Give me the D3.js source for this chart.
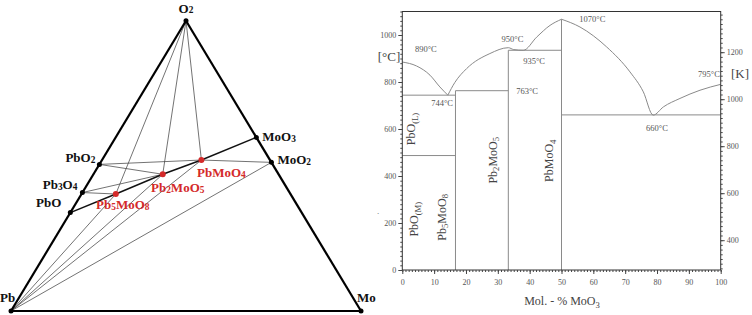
<!DOCTYPE html>
<html>
<head>
<meta charset="utf-8">
<script src="https://cdn.jsdelivr.net/npm/d3@7"></script>
<style>
  body { margin: 0; background: #fff; }
  svg { display: block; font-family: "Liberation Serif", "Times New Roman", serif; }
</style>
</head>
<body>
<div id="chart"></div>
<script>
// ---- Ternary Pb-Mo-O diagram (left) ----
var phases = ["Pb", "Mo", "O2", "PbO2", "Pb3O4", "PbO", "Pb5MoO8", "Pb2MoO5", "PbMoO4", "MoO3", "MoO2"];
var fracMo = [0, 1, 0, 0, 0, 0, 0.098, 0.198, 0.284, 0.402, 0.488];
var fracO  = [0, 0, 1, 0.505, 0.408, 0.339, 0.403, 0.471, 0.520, 0.598, 0.512];
var ternaryPhases = ["Pb5MoO8", "Pb2MoO5", "PbMoO4"];

var edgeLines = [["Pb", "O2"], ["O2", "Mo"], ["Pb", "Mo"]];
var boldLines = [["PbO", "Pb5MoO8"], ["Pb5MoO8", "Pb2MoO5"], ["Pb2MoO5", "PbMoO4"], ["PbMoO4", "MoO3"]];
var tieLines = [
  ["O2", "Pb5MoO8"], ["O2", "Pb2MoO5"], ["O2", "PbMoO4"],
  ["PbO2", "PbMoO4"], ["PbO2", "Pb2MoO5"],
  ["Pb3O4", "Pb5MoO8"], ["Pb3O4", "Pb2MoO5"],
  ["PbMoO4", "MoO2"],
  ["Pb", "Pb5MoO8"], ["Pb", "Pb2MoO5"], ["Pb", "PbMoO4"], ["Pb", "MoO2"]
];

// ---- PbO-MoO3 phase diagram (right) ----
var liqMol1 = [0, 4.5, 8.7, 11.8, 14.3];
var liqT1   = [885, 868, 829, 779, 744];
var liqMol2 = [14.3, 16.5, 20.2, 27.5, 33.3, 35, 38, 42.2, 46.4, 50];
var liqT2   = [744, 798, 857, 921, 946, 938, 935, 991, 1041, 1067];
var liqMol3 = [50, 55.8, 64.2, 71.5, 75.7, 78.8, 82, 87.2, 93.5, 100];
var liqT3   = [1067, 1034, 949, 843, 758, 659, 694, 730, 765, 790];

// horizontal invariant lines
var isoFrom = [0, 16.7, 0, 33.3, 50];
var isoTo   = [16.7, 33.3, 16.7, 50, 100];
var isoT    = [744, 763, 487, 935, 660];
// vertical compound lines
var compMol = [16.7, 33.3, 50];
var compTop = [763, 935, 1067];

var tempLabels = ["890°C", "744°C", "950°C", "935°C", "1070°C", "763°C", "660°C", "795°C"];
var tempLabelMol = [7.4, 12.5, 34.6, 41.4, 59.7, 39.2, 80, 96.3];
var tempLabelT   = [926, 697, 969, 875, 1054, 748, 591, 820];

var xTicks = [0, 10, 20, 30, 40, 50, 60, 70, 80, 90, 100];
var cTicks = [0, 200, 400, 600, 800, 1000];
var kTicks = [400, 600, 800, 1000, 1200];

var width = 752, height = 315;
var svg = d3.select("#chart").append("svg")
  .attr("width", width).attr("height", height);

// write a formula, digits / phase tags as subscripts
function formula(textSel, parts, size, shift) {
  parts.forEach(function(p, i) {
    var isSub = p[1] === 1;
    var prevSub = i > 0 && parts[i - 1][1] === 1;
    var dy = 0;
    if (isSub && !prevSub) dy = size * shift;
    if (!isSub && prevSub) dy = -size * shift;
    textSel.append("tspan")
      .attr("dy", dy)
      .attr("font-size", isSub ? size * 0.72 : size)
      .text(p[0]);
  });
}
function splitFormula(name) {
  return name.match(/[A-Za-z]+|\d+/g).map(function(s) {
    return [s, /\d/.test(s) ? 1 : 0];
  });
}

// ===== left ternary =====
var tx = d3.scaleLinear().domain([0, 1]).range([11, 361]);
var ty = d3.scaleLinear().domain([0, 1]).range([311, 20.7]);
function px(name) {
  var i = phases.indexOf(name);
  return [tx(fracMo[i] + fracO[i] / 2), ty(fracO[i])];
}

var tern = svg.append("g");
function drawLines(list, w, col) {
  tern.append("g").selectAll("line").data(list).enter().append("line")
    .attr("x1", function(d) { return px(d[0])[0]; })
    .attr("y1", function(d) { return px(d[0])[1]; })
    .attr("x2", function(d) { return px(d[1])[0]; })
    .attr("y2", function(d) { return px(d[1])[1]; })
    .attr("stroke", col).attr("stroke-width", w);
}
drawLines(tieLines, 0.75, "#444");
drawLines(boldLines, 1.5, "#111");
drawLines(edgeLines, 2.2, "#000");

tern.append("g").selectAll("circle").data(phases).enter().append("circle")
  .attr("cx", function(d) { return px(d)[0]; })
  .attr("cy", function(d) { return px(d)[1]; })
  .attr("r", function(d) { return ternaryPhases.indexOf(d) >= 0 ? 3 : 2.5; })
  .attr("fill", function(d) { return ternaryPhases.indexOf(d) >= 0 ? "#d42a2a" : "#000"; });

// label placement relative to each point
var labelPos = {
  "O2": [0, -8, "middle"], "Pb": [-11, -9, "start"], "Mo": [-4, -9, "start"],
  "PbO2": [-4, -2, "end"], "Pb3O4": [-5, -3.5, "end"], "PbO": [-9, -5.5, "end"],
  "Pb5MoO8": [7, 15, "middle"], "Pb2MoO5": [15, 18, "middle"], "PbMoO4": [20, 17, "middle"],
  "MoO3": [6, 4, "start"], "MoO2": [6, 2, "start"]
};
phases.forEach(function(name) {
  var p = px(name), lp = labelPos[name];
  var t = tern.append("text")
    .attr("x", p[0] + lp[0]).attr("y", p[1] + lp[1])
    .attr("text-anchor", lp[2])
    .attr("font-weight", "bold")
    .attr("fill", ternaryPhases.indexOf(name) >= 0 ? "#d42a2a" : "#111");
  formula(t, splitFormula(name), 13, 0.06);
});

// ===== right phase diagram =====
var x = d3.scaleLinear().domain([0, 100]).range([402.3, 720.7]);
var y = d3.scaleLinear().domain([0, 1100]).range([270, 11.5]);
var yK = d3.scaleLinear().domain([273.15, 1373.15]).range([270, 11.5]);

var pd = svg.append("g");
var grey = "#8a8a8a";

// invariant lines
pd.append("g").selectAll("line").data(isoT).enter().append("line")
  .attr("x1", function(d, i) { return x(isoFrom[i]); })
  .attr("x2", function(d, i) { return x(isoTo[i]); })
  .attr("y1", function(d) { return y(d); })
  .attr("y2", function(d) { return y(d); })
  .attr("stroke", grey).attr("stroke-width", 1);
pd.append("g").selectAll("line").data(compMol).enter().append("line")
  .attr("x1", function(d) { return x(d); })
  .attr("x2", function(d) { return x(d); })
  .attr("y1", y(0))
  .attr("y2", function(d, i) { return y(compTop[i]); })
  .attr("stroke", grey).attr("stroke-width", 1);

// liquidus
var line = d3.line()
  .x(function(d) { return x(d[0]); })
  .y(function(d) { return y(d[1]); })
  .curve(d3.curveMonotoneX);
[[liqMol1, liqT1], [liqMol2, liqT2], [liqMol3, liqT3]].forEach(function(b) {
  pd.append("path")
    .datum(d3.zip(b[0], b[1]))
    .attr("d", line)
    .attr("fill", "none")
    .attr("stroke", grey).attr("stroke-width", 1);
});

// frame
pd.append("rect")
  .attr("x", x(0)).attr("y", y(1100))
  .attr("width", x(100) - x(0)).attr("height", y(0) - y(1100))
  .attr("fill", "none").attr("stroke", "#333").attr("stroke-width", 1);

// axes
var fmt = d3.format("d");
function styleAxis(g) {
  g.attr("font-family", "Liberation Serif, serif").attr("font-size", 8);
  g.select(".domain").remove();
  g.selectAll("line").attr("stroke", "#444");
  g.selectAll("text").attr("fill", "#555");
}
pd.append("g").attr("transform", "translate(" + x(0) + ",0)")
  .call(d3.axisLeft(y).tickValues(d3.range(0, 1101, 20)).tickSize(2).tickFormat(""))
  .call(styleAxis);
pd.append("g").attr("transform", "translate(" + x(0) + ",0)")
  .call(d3.axisLeft(y).tickValues(cTicks).tickSize(4).tickPadding(2).tickFormat(fmt))
  .call(styleAxis);
pd.append("g").attr("transform", "translate(" + x(100) + ",0)")
  .call(d3.axisRight(yK).tickValues(d3.range(280, 1373, 20)).tickSize(2).tickFormat(""))
  .call(styleAxis);
pd.append("g").attr("transform", "translate(" + x(100) + ",0)")
  .call(d3.axisRight(yK).tickValues(kTicks).tickSize(4).tickPadding(2).tickFormat(fmt))
  .call(styleAxis);
pd.append("g").attr("transform", "translate(0," + y(0) + ")")
  .call(d3.axisBottom(x).tickValues(d3.range(0, 101, 1)).tickSize(2).tickFormat(""))
  .call(styleAxis);
pd.append("g").attr("transform", "translate(0," + y(0) + ")")
  .call(d3.axisBottom(x).tickValues(xTicks).tickSize(4).tickPadding(5).tickFormat(fmt))
  .call(styleAxis);

// temperature annotations
pd.append("g").selectAll("text").data(tempLabels).enter().append("text")
  .attr("x", function(d, i) { return x(tempLabelMol[i]); })
  .attr("y", function(d, i) { return y(tempLabelT[i]); })
  .attr("text-anchor", "middle")
  .attr("font-size", 8.5).attr("fill", "#555")
  .text(function(d) { return d; });

// unit labels
pd.append("text").attr("x", 389).attr("y", 61).attr("text-anchor", "middle")
  .attr("font-size", 13).attr("fill", "#444").text("[°C]");
pd.append("text").attr("x", 740).attr("y", 78).attr("text-anchor", "middle")
  .attr("font-size", 13).attr("fill", "#444").text("[K]");
pd.append("text").attr("x", 377).attr("y", 214).attr("font-size", 9).attr("fill", "#666").text(".");

// x title
var xt = pd.append("text").attr("x", 562).attr("y", 305).attr("text-anchor", "middle")
  .attr("fill", "#444");
formula(xt, [["Mol. - % MoO", 0], ["3", 1]], 12, 0.22);

// phase field labels (vertical)
var fieldNames = [
  [["PbO", 0], ["(L)", 1]],
  [["PbO", 0], ["(M)", 1]],
  [["Pb", 0], ["5", 1], ["MoO", 0], ["8", 1]],
  [["Pb", 0], ["2", 1], ["MoO", 0], ["5", 1]],
  [["PbMoO", 0], ["4", 1]]
];
var fieldMol = [4.0, 4.9, 13.6, 29.6, 47.3];
var fieldT   = [600, 216, 224, 467, 465];
fieldNames.forEach(function(parts, i) {
  var cx = x(fieldMol[i]), cy = y(fieldT[i]);
  var t = pd.append("text")
    .attr("transform", "translate(" + cx + "," + cy + ") rotate(-90)")
    .attr("text-anchor", "middle")
    .attr("fill", "#444");
  formula(t, parts, 12, 0.22);
});
</script>
</body>
</html>
